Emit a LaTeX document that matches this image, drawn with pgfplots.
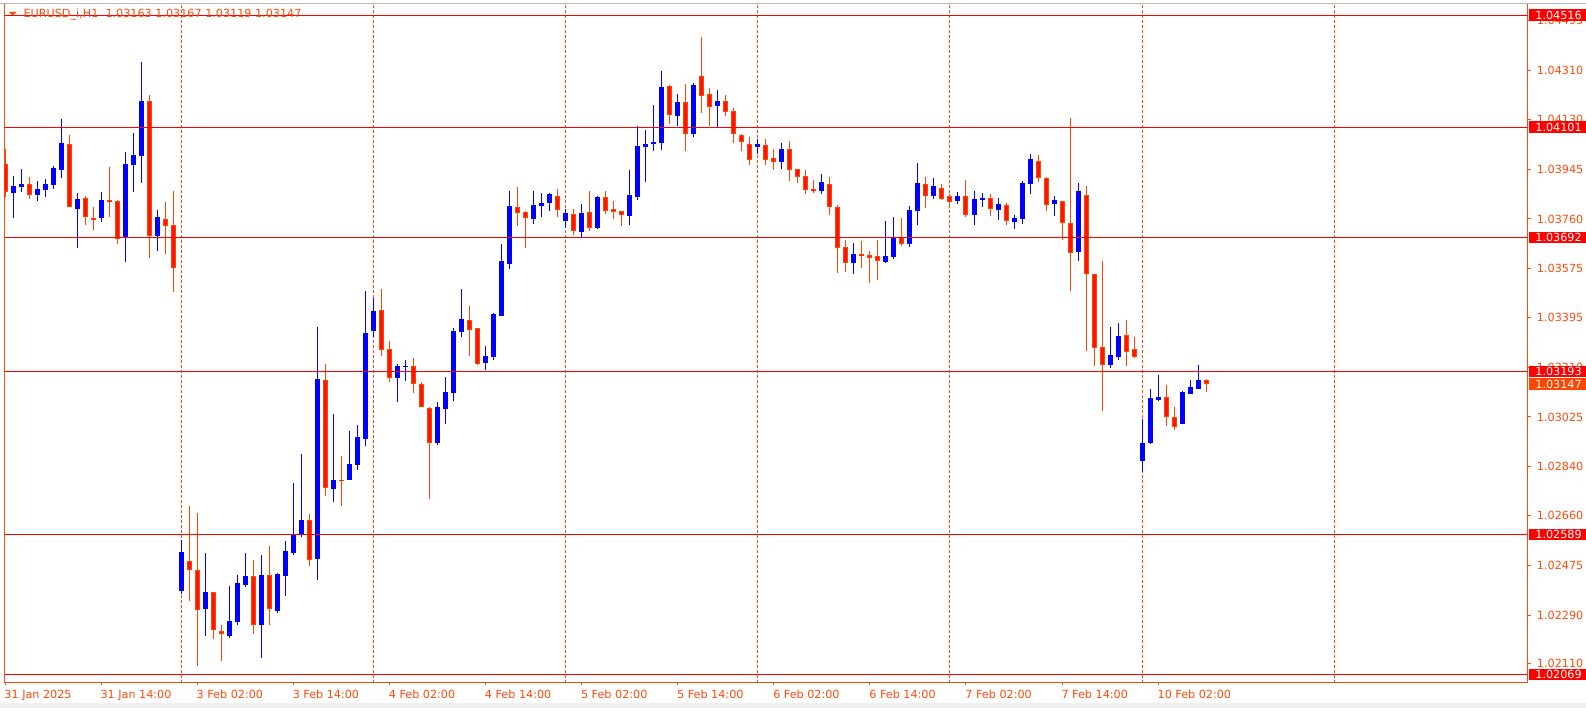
\documentclass[border=0pt]{standalone}
\usepackage{pgfplots}
\pgfplotsset{compat=1.18}
\usepackage{pgfplotstable}
\usepackage{fontspec}
\setmainfont{DejaVu Sans}
\definecolor{bearline}{RGB}{255,69,0}
\definecolor{bearfill}{RGB}{255,20,0}
\definecolor{bullc}{RGB}{0,0,255}
\definecolor{lvl}{RGB}{255,0,0}
\definecolor{axcol}{RGB}{255,75,10}
\newcommand\lab{\fontsize{8.4}{10}\selectfont}

\pgfplotstableread{
x o h l c
1 1.03857 1.03919 1.03765 1.03882
2 1.03880 1.03945 1.03860 1.03890
4 1.03850 1.03901 1.03828 1.03871
5 1.03869 1.03908 1.03843 1.03890
6 1.03887 1.03956 1.03872 1.03949
7 1.03943 1.04132 1.03913 1.04042
9 1.03798 1.03856 1.03653 1.03834
12 1.03763 1.03860 1.03750 1.03830
15 1.03692 1.04008 1.03601 1.03964
16 1.03959 1.04079 1.03860 1.03997
17 1.03995 1.04343 1.03894 1.04198
19 1.03698 1.03793 1.03642 1.03767
22 1.02380 1.02568 1.02368 1.02524
25 1.02314 1.02520 1.02213 1.02375
28 1.02213 1.02398 1.02206 1.02268
29 1.02265 1.02439 1.02254 1.02409
30 1.02403 1.02520 1.02395 1.02435
32 1.02254 1.02513 1.02132 1.02439
34 1.02306 1.02446 1.02299 1.02442
35 1.02436 1.02565 1.02362 1.02528
36 1.02520 1.02780 1.02513 1.02587
37 1.02587 1.02888 1.02580 1.02643
39 1.02499 1.03359 1.02421 1.03166
41 1.02759 1.03036 1.02711 1.02791
43 1.02792 1.02973 1.02792 1.02851
44 1.02848 1.02995 1.02829 1.02951
45 1.02945 1.03492 1.02919 1.03337
46 1.03345 1.03467 1.03323 1.03418
49 1.03171 1.03222 1.03082 1.03214
50 1.03210 1.03236 1.03160 1.03214
54 1.02930 1.03081 1.02922 1.03062
55 1.03056 1.03173 1.03000 1.03118
56 1.03115 1.03355 1.03086 1.03344
57 1.03342 1.03500 1.03323 1.03389
60 1.03227 1.03288 1.03201 1.03251
61 1.03249 1.03411 1.03238 1.03407
62 1.03401 1.03667 1.03401 1.03604
63 1.03594 1.03864 1.03575 1.03808
66 1.03761 1.03864 1.03742 1.03812
67 1.03809 1.03856 1.03768 1.03819
68 1.03820 1.03856 1.03791 1.03852
70 1.03754 1.03797 1.03728 1.03782
72 1.03713 1.03815 1.03692 1.03782
74 1.03728 1.03845 1.03724 1.03841
78 1.03772 1.03942 1.03739 1.03849
79 1.03843 1.04105 1.03830 1.04031
80 1.04028 1.04090 1.03898 1.04038
81 1.04038 1.04183 1.04013 1.04046
82 1.04043 1.04309 1.04017 1.04250
84 1.04143 1.04224 1.04106 1.04194
86 1.04076 1.04264 1.04065 1.04257
89 1.04180 1.04238 1.04102 1.04198
94 1.04028 1.04055 1.04001 1.04038
97 1.03973 1.04042 1.03946 1.04020
102 1.03865 1.03927 1.03854 1.03897
106 1.03598 1.03671 1.03557 1.03630
110 1.03601 1.03752 1.03598 1.03621
111 1.03620 1.03767 1.03613 1.03693
113 1.03668 1.03808 1.03657 1.03793
114 1.03791 1.03968 1.03739 1.03893
116 1.03846 1.03912 1.03835 1.03882
119 1.03828 1.03860 1.03817 1.03845
121 1.03776 1.03864 1.03739 1.03834
122 1.03831 1.03856 1.03806 1.03838
124 1.03794 1.03838 1.03757 1.03815
126 1.03750 1.03775 1.03724 1.03763
127 1.03761 1.03901 1.03742 1.03893
128 1.03891 1.04001 1.03854 1.03982
131 1.03817 1.03845 1.03772 1.03830
134 1.03639 1.03893 1.03605 1.03864
138 1.03219 1.03359 1.03208 1.03255
139 1.03249 1.03374 1.03238 1.03326
142 1.02863 1.03019 1.02822 1.02928
143 1.02930 1.03129 1.02926 1.03095
144 1.03089 1.03181 1.03086 1.03099
147 1.03000 1.03120 1.02998 1.03118
148 1.03112 1.03162 1.03112 1.03136
149 1.03130 1.03218 1.03130 1.03162
}\bulltab

\pgfplotstableread{
x o h l c
0 1.03964 1.04020 1.03843 1.03861
3 1.03890 1.03916 1.03835 1.03848
8 1.04038 1.04071 1.03803 1.03803
10 1.03838 1.03845 1.03739 1.03766
11 1.03763 1.03804 1.03720 1.03756
13 1.03830 1.03954 1.03768 1.03822
14 1.03827 1.03830 1.03668 1.03687
18 1.04198 1.04220 1.03616 1.03698
20 1.03760 1.03823 1.03631 1.03733
21 1.03736 1.03864 1.03490 1.03577
23 1.02490 1.02695 1.02343 1.02456
24 1.02457 1.02669 1.02102 1.02307
26 1.02374 1.02374 1.02202 1.02233
27 1.02230 1.02253 1.02121 1.02218
31 1.02435 1.02494 1.02221 1.02252
33 1.02439 1.02546 1.02254 1.02311
38 1.02643 1.02665 1.02473 1.02493
40 1.03162 1.03222 1.02733 1.02763
42 1.02791 1.02880 1.02696 1.02787
47 1.03422 1.03500 1.03253 1.03275
48 1.03277 1.03307 1.03156 1.03171
51 1.03214 1.03244 1.03115 1.03149
52 1.03147 1.03155 1.03061 1.03061
53 1.03058 1.03062 1.02722 1.02930
58 1.03385 1.03437 1.03253 1.03349
59 1.03355 1.03355 1.03219 1.03223
64 1.03804 1.03878 1.03735 1.03783
65 1.03786 1.03789 1.03653 1.03765
69 1.03845 1.03871 1.03768 1.03794
71 1.03778 1.03797 1.03702 1.03716
73 1.03786 1.03864 1.03716 1.03728
75 1.03841 1.03864 1.03780 1.03791
76 1.03797 1.03827 1.03761 1.03787
77 1.03789 1.03789 1.03735 1.03776
83 1.04253 1.04257 1.04114 1.04147
85 1.04194 1.04261 1.04013 1.04076
87 1.04290 1.04435 1.04154 1.04217
88 1.04224 1.04246 1.04106 1.04177
90 1.04198 1.04220 1.04143 1.04156
91 1.04161 1.04172 1.04043 1.04074
92 1.04071 1.04075 1.04013 1.04047
93 1.04038 1.04064 1.03961 1.03980
95 1.04034 1.04057 1.03961 1.03980
96 1.03986 1.04020 1.03943 1.03973
98 1.04020 1.04049 1.03902 1.03943
99 1.03945 1.03945 1.03895 1.03917
100 1.03919 1.03942 1.03854 1.03869
101 1.03871 1.03904 1.03857 1.03865
103 1.03890 1.03916 1.03776 1.03803
104 1.03804 1.03812 1.03561 1.03651
105 1.03655 1.03682 1.03564 1.03595
107 1.03630 1.03678 1.03579 1.03624
108 1.03625 1.03641 1.03524 1.03616
109 1.03621 1.03682 1.03535 1.03603
112 1.03693 1.03763 1.03661 1.03666
115 1.03890 1.03916 1.03801 1.03846
117 1.03875 1.03890 1.03830 1.03835
118 1.03845 1.03853 1.03808 1.03824
120 1.03845 1.03904 1.03768 1.03776
123 1.03838 1.03853 1.03772 1.03798
125 1.03812 1.03819 1.03739 1.03754
129 1.03975 1.03997 1.03898 1.03913
130 1.03912 1.03916 1.03791 1.03813
132 1.03826 1.03826 1.03683 1.03746
133 1.03745 1.04134 1.03494 1.03635
135 1.03849 1.03882 1.03271 1.03557
136 1.03556 1.03556 1.03215 1.03282
137 1.03285 1.03604 1.03048 1.03219
140 1.03329 1.03385 1.03215 1.03267
141 1.03277 1.03322 1.03245 1.03249
145 1.03099 1.03144 1.02993 1.03026
146 1.03025 1.03062 1.02978 1.02989
150 1.03163 1.03167 1.03119 1.03147
}\beartab

\begin{document}
\begin{tikzpicture}
\begin{axis}[
  scale only axis,
  width=1142.25pt, height=508.5pt,
  xmin=-0.045, xmax=190.14,
  ymin=1.020415, ymax=1.045576,
  clip mode=individual,
  axis line style={draw=axcol, line width=0.75pt},
  tick align=outside,
  major tick length=2.25pt,
  tick style={draw=axcol, line width=0.75pt},
  minor tick num=0,
  xtick pos=bottom,
  ytick pos=right,
  yticklabel pos=right,
  xtick={0,12,...,144},
  xticklabels={31 Jan 2025,31 Jan 14:00,3 Feb 02:00,3 Feb 14:00,4 Feb 02:00,4 Feb 14:00,5 Feb 02:00,5 Feb 14:00,6 Feb 02:00,6 Feb 14:00,7 Feb 02:00,7 Feb 14:00,10 Feb 02:00},
  ytick={1.02110,1.02290,1.02475,1.02660,1.02840,1.03025,1.03210,1.03395,1.03575,1.03760,1.03945,1.04130,1.04310,1.04495},
  yticklabels={1.02110,1.02290,1.02475,1.02660,1.02840,1.03025,1.03210,1.03395,1.03575,1.03760,1.03945,1.04130,1.04310,1.04495},
  ticklabel style={font=\lab, text=axcol},
  xticklabel style={anchor=north west, inner sep=0pt, xshift=-0.6pt, yshift=-3.5pt},
  yticklabel style={anchor=west, inner sep=0pt, xshift=4.5pt},
]
% day separators
\pgfplotsinvokeforeach{22,46,70,94,118,142,166}{
  \addplot[draw=axcol, line width=0.75pt, dash pattern=on 2.25pt off 1.5pt] coordinates {(#1,1.0200) (#1,1.0460)};
}
% wicks
\addplot[-, draw=bullc, line width=0.75pt, quiver={u=0, v=\thisrow{h}-\thisrow{l}}] table[x=x, y=l] {\bulltab};
\addplot[-, draw=bearline, line width=0.75pt, quiver={u=0, v=\thisrow{h}-\thisrow{l}}] table[x=x, y=l] {\beartab};
% bodies
\addplot[-, draw=bullc, line width=3.75pt, quiver={u=0, v=\thisrow{c}-\thisrow{o}}] table[x=x, y=o] {\bulltab};
\addplot[-, draw=bearline, line width=3.75pt, quiver={u=0, v=\thisrow{o}-\thisrow{c}}] table[x=x, y=c] {\beartab};
\addplot[-, draw=bearfill, line width=2.25pt, quiver={u=0, v=\thisrow{o}-\thisrow{c}, every arrow/.append style={shorten <=0.75pt, shorten >=0.75pt}}] table[x=x, y=c] {\beartab};
% horizontal levels
\pgfplotsinvokeforeach{1.04516,1.04101,1.03692,1.03193,1.02589,1.02069}{
  \addplot[draw=lvl, line width=0.75pt] coordinates {(-1,#1) (200,#1)};
}
\coordinate (BL) at (rel axis cs:0,0);
\coordinate (TR) at (rel axis cs:1,1);
\coordinate (TL) at (rel axis cs:0,1);
\coordinate (q1) at (axis cs:190.14,1.04516);
\coordinate (q2) at (axis cs:190.14,1.04101);
\coordinate (q3) at (axis cs:190.14,1.03692);
\coordinate (q4) at (axis cs:190.14,1.03193);
\coordinate (q5) at (axis cs:190.14,1.03147);
\coordinate (q6) at (axis cs:190.14,1.02589);
\coordinate (q7) at (axis cs:190.14,1.02069);
\end{axis}
% price boxes on the scale
\begin{scope}[every node/.style={anchor=west, text=white, font=\lab, minimum height=8.6pt, inner ysep=0pt, inner xsep=5pt}]
\node[fill=lvl] at ([xshift=0.6pt]q1) {1.04516};
\node[fill=lvl] at ([xshift=0.6pt]q2) {1.04101};
\node[fill=lvl] at ([xshift=0.6pt]q3) {1.03692};
\node[fill=lvl] at ([xshift=0.6pt]q4) {1.03193};
\node[fill=bearline] at ([xshift=0.6pt]q5) {1.03147};
\node[fill=lvl] at ([xshift=0.6pt]q6) {1.02589};
\node[fill=lvl] at ([xshift=0.6pt]q7) {1.02069};
\end{scope}
% title
\fill[axcol] ([shift={(3pt,-6pt)}]TL) -- ([shift={(9pt,-6pt)}]TL) -- ([shift={(6pt,-8.5pt)}]TL) -- cycle;
\node[anchor=west, inner sep=0pt, text=axcol, font=\lab] at ([shift={(14pt,-8pt)}]TL) {EURUSD\_i,H1\ \ 1.03163 1.03167 1.03119 1.03147};
% window top line and status strip
\draw[gray!55, line width=0.75pt] ([xshift=-3.5pt]TL) -- ([xshift=43.75pt]TR);
\fill[gray!12] ([shift={(-3.5pt,-19.5pt)}]BL) rectangle ([shift={(43.75pt,-16pt)}]BL -| TR);
\pgfresetboundingbox
\path ([shift={(-3.5pt,-19.5pt)}]BL) rectangle ([shift={(43.75pt,3pt)}]TR);
\end{tikzpicture}
\end{document}
